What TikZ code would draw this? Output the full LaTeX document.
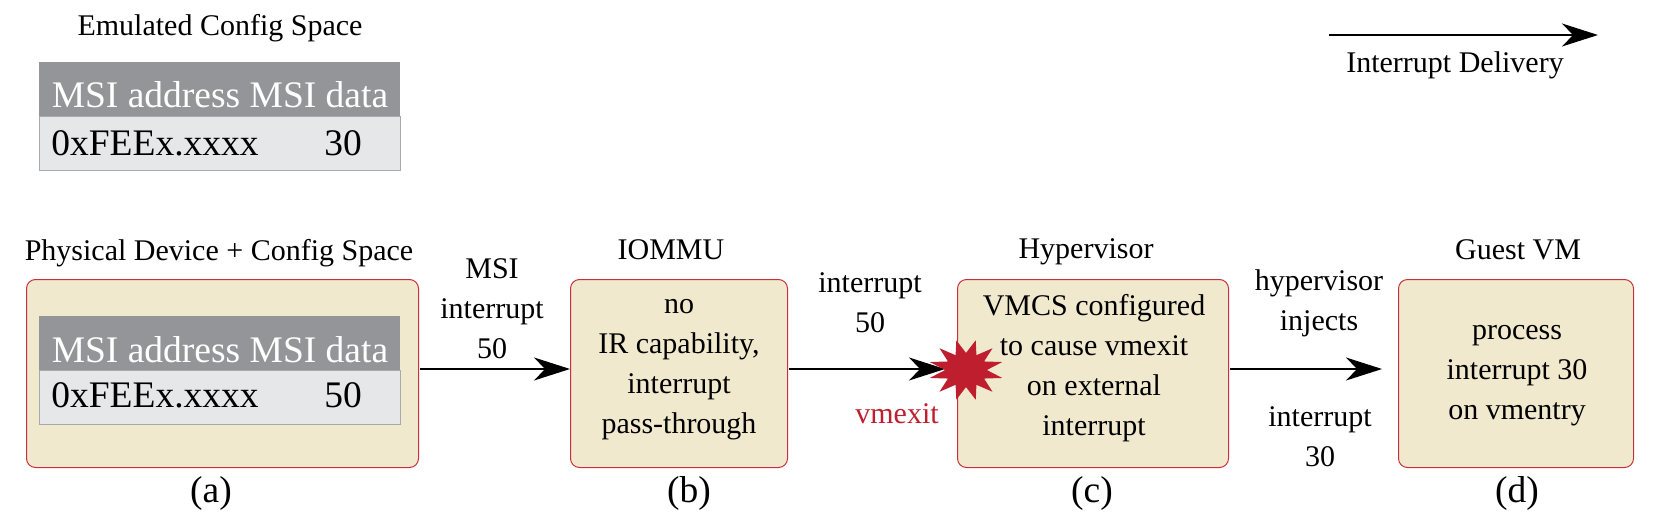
\documentclass[tikz,border=0pt]{standalone}
\usepackage{fontspec}
\setmainfont{Liberation Serif}
\usetikzlibrary{arrows.meta,shapes.geometric}
\definecolor{boxfill}{HTML}{F1E9CD}
\definecolor{boxline}{HTML}{C8303C}
\definecolor{hdr}{HTML}{939598}
\definecolor{bodyc}{HTML}{E6E7E8}
\definecolor{bodyl}{HTML}{A7A9AC}
\definecolor{starred}{HTML}{BE1E2D}
\newcommand{\lab}{\fontsize{30}{40}\selectfont}
\newcommand{\bigtxt}{\fontsize{37.5}{45}\selectfont}
\tikzset{
 x=1pt,y=-1pt,
 stagebox/.style={draw=boxline,line width=1pt,fill=boxfill,rounded corners=9pt,minimum height=188pt,inner sep=0pt,anchor=north west},
 hdrbox/.style={fill=hdr,minimum width=361pt,minimum height=54pt,inner sep=0pt,anchor=north west},
 bodybox/.style={draw=bodyl,line width=1pt,fill=bodyc,minimum width=361pt,minimum height=54pt,inner sep=0pt,anchor=north west},
 lbl/.style={font=\lab,align=center,inner sep=0pt},
 captext/.style={font=\bigtxt,inner sep=0pt},
 hdrtext/.style={font=\bigtxt,text=white,inner sep=0pt,anchor=base},
 celltext/.style={font=\bigtxt,text=black,inner sep=0pt,anchor=base},
 flow/.style={line width=1.25pt,-{Stealth[length=36pt,width=23pt,inset=11pt]}},
}
\begin{document}
\begin{tikzpicture}
\useasboundingbox (0,0) rectangle (1653,530);
% stage boxes
\node[stagebox,minimum width=392pt] (a) at (26,279) {};
\node[stagebox,minimum width=217pt] (b) at (570,279) {};
\node[stagebox,minimum width=271pt] (c) at (957,279) {};
\node[stagebox,minimum width=235pt] (d) at (1398,279) {};
\node[lbl] (bt) at (679,370) {no\\IR capability,\\interrupt\\pass-through};
\node[lbl] (ct) at (1094,368) {VMCS configured\\to cause vmexit\\on external\\interrupt};
\node[lbl] (dt) at (1517,376) {process\\interrupt 30\\on vmentry};
% emulated table
\node[lbl] (emu) at (220,28) {Emulated Config Space};
\node[bodybox] (t1b) at (39,116) {};
\node[hdrbox] (t1h) at (39,62) {};
\node[hdrtext] (t1ht) at (220,107) {MSI address MSI data};
\node[celltext] (t1a) at (155,155) {0xFEEx.xxxx};
\node[celltext] (t1d) at (343,155) {30};
% physical table
\node[bodybox] (t2b) at (39,370) {};
\node[hdrbox] (t2h) at (39,316) {};
\node[hdrtext] (t2ht) at (220,362) {MSI address MSI data};
\node[celltext] (t2a) at (155,407) {0xFEEx.xxxx};
\node[celltext] (t2d) at (343,407) {50};
% titles
\node[lbl] (ta) at (219,253) {Physical Device + Config Space};
\node[lbl] (tb) at (671,250) {IOMMU};
\node[lbl] (tc) at (1086,252) {Hypervisor};
\node[lbl] (td) at (1518,250) {Guest VM};
% captions
\node[captext] (ca) at (211,493) {(a)};
\node[captext] (cb) at (689,493) {(b)};
\node[captext] (cc) at (1092,493) {(c)};
\node[captext] (cd) at (1517,493) {(d)};
% connector labels
\node[lbl] (l1) at (492,309) {MSI\\interrupt\\50};
\node[lbl] (l2) at (870,303) {interrupt\\50};
\node[lbl] (l3) at (1319,303) {hypervisor\\injects};
\node[lbl] (l4) at (1320,437) {interrupt\\30};
\node[lbl,text=starred] (l5) at (897,414) {vmexit};
% legend
\coordinate (ls) at (1329,35);
\coordinate (le) at (1598,35);
\draw[flow] (ls) -- (le);
\node[lbl] (lt) at (1455,65) {Interrupt Delivery};
% connectors
\coordinate (e3) at (1382,369);
\coordinate (s1) at (420,369);
\coordinate (s2) at (789,369);
\coordinate (e2) at (945,369);
\coordinate (s3) at (1230,369);
\draw[flow] (s1) -- (b.west |- s1);
\draw[flow] (s2) -- (e2);
\draw[flow] (s3) -- (e3);
% star
\begin{scope}[shift={(966,370)},yscale=.82]
\node[star,transform shape,star points=12,star point ratio=1.8,shape border rotate=15,fill=starred,draw=none,minimum size=75pt,inner sep=0pt] (burst) at (0,0) {};
\end{scope}
\end{tikzpicture}
\end{document}
